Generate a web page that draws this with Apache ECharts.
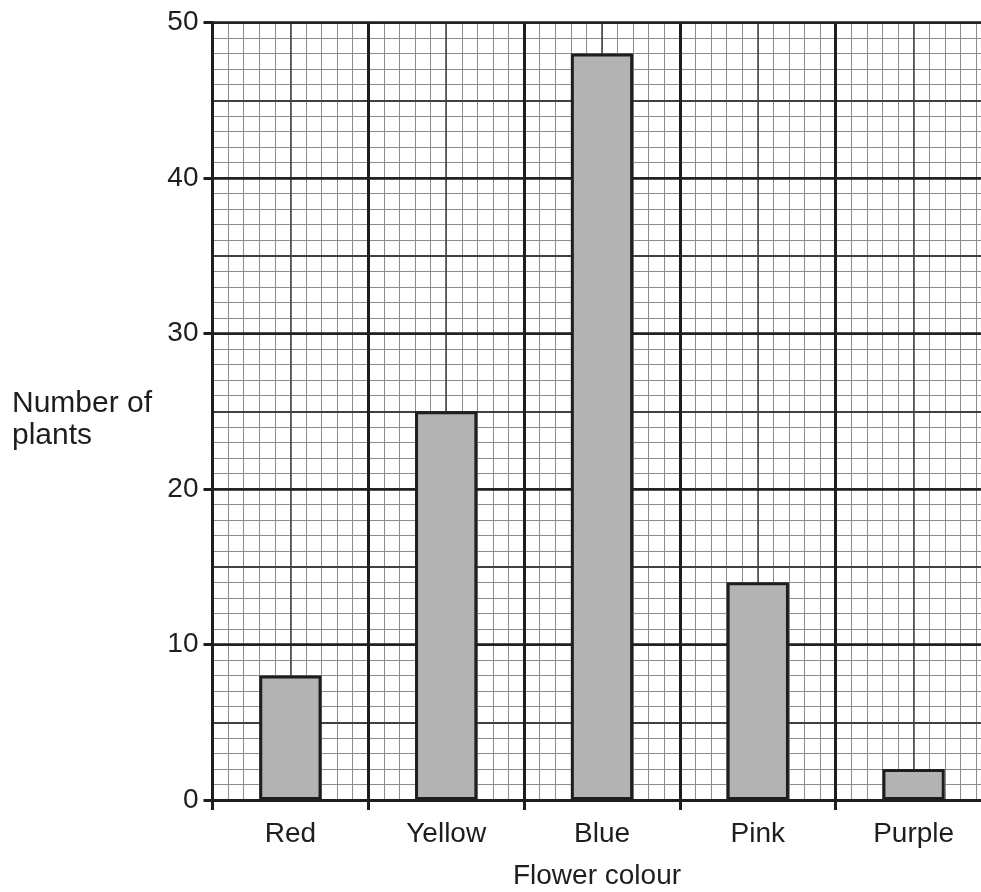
<!DOCTYPE html>
<html>
<head>
<meta charset="utf-8">
<script src="https://cdn.jsdelivr.net/npm/echarts@6/dist/echarts.min.js"></script>
<style>
html,body{margin:0;padding:0;background:#fff;}
#chart{width:981px;height:892px;}
</style>
</head>
<body>
<div id="chart"></div>
<script>
const categories = ['Red', 'Yellow', 'Blue', 'Pink', 'Purple'];
const plantCounts = [8, 25, 48, 14, 2];
const yTickValues = [0, 10, 20, 30, 40, 50];
const xAxisTitle = 'Flower colour';
const yAxisTitle = ['Number of', 'plants'];

const FONT = '"Liberation Sans", Arial, Helvetica, sans-serif';
const INK = '#1e1e1e';

function gridAxis(interval, color, width, z) {
  return {
    type: 'value', min: 0, max: 50, interval: interval, z: z,
    axisLine: {show: false}, axisTick: {show: false}, axisLabel: {show: false},
    splitLine: {show: true, lineStyle: {color: color, width: width}}
  };
}

const chart = echarts.init(document.getElementById('chart'), null, {renderer: 'canvas'});
chart.setOption({
  backgroundColor: '#ffffff',
  animation: false,
  grid: {left: 212.5, top: 22.5, width: 779, height: 777.5, outerBoundsMode: 'none', containLabel: false},
  xAxis: [
    {
      type: 'category', data: categories, z: 4,
      axisLine: {show: true, lineStyle: {color: INK, width: 3}},
      axisTick: {show: true, length: 10, lineStyle: {color: INK, width: 3}},
      axisLabel: {color: INK, fontSize: 28, fontFamily: FONT, margin: 20},
      splitLine: {show: true, lineStyle: {color: INK, width: 3}}
    },
    gridAxis(1, '#8c8c8c', 1, 1),
    gridAxis(5, '#404040', 1.5, 2)
  ],
  yAxis: [
    {
      type: 'value', min: 0, max: 50, interval: 10, z: 4,
      axisLine: {show: true, lineStyle: {color: INK, width: 3}},
      axisTick: {show: true, length: 9, lineStyle: {color: INK, width: 3}},
      axisLabel: {color: INK, fontSize: 28, fontFamily: FONT, margin: 14,
        formatter: function (v) { return yTickValues.indexOf(v) >= 0 ? String(v) : ''; }},
      splitLine: {show: true, lineStyle: {color: INK, width: 2.5}}
    },
    gridAxis(1, '#8c8c8c', 1, 1),
    gridAxis(5, '#404040', 2, 2)
  ],
  series: [{
    type: 'bar', data: plantCounts, xAxisIndex: 0, yAxisIndex: 0, z: 10,
    barWidth: '40%',
    itemStyle: {color: '#b3b3b3', borderColor: INK, borderWidth: 3}
  }],
  graphic: [
    {type: 'text', x: 597, y: 862, z: 20,
      style: {text: xAxisTitle, fill: INK, font: '28px ' + FONT, align: 'center', verticalAlign: 'top'}},
    {type: 'text', x: 12, y: 388, z: 20,
      style: {text: yAxisTitle.join('\n'), fill: INK, font: '30px ' + FONT, lineHeight: 32, verticalAlign: 'top'}}
  ]
});
</script>
</body>
</html>
